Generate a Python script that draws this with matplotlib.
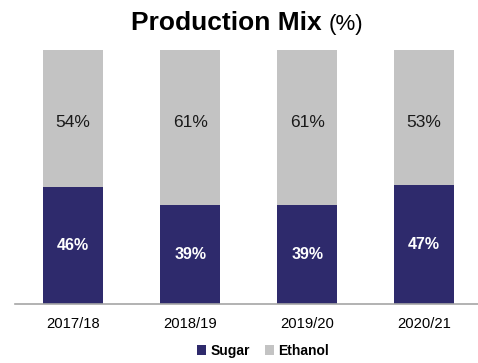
import matplotlib.pyplot as plt
import numpy as np

plt.rcParams['font.family'] = ['Liberation Sans', 'DejaVu Sans']

seasons = ['2017/18', '2018/19', '2019/20', '2020/21']
sugar = [46, 39, 39, 47]
ethanol = [54, 61, 61, 53]

sugar_color = '#2E2A6C'
ethanol_color = '#C3C3C3'

fig = plt.figure(figsize=(4.78, 3.63), dpi=100)
ax = fig.add_axes([15 / 478, 59 / 363, 463 / 478, 254 / 363])

x = np.arange(len(seasons))
w = 0.51
ax.bar(x, sugar, w, color=sugar_color, label='Sugar')
ax.bar(x, ethanol, w, bottom=sugar, color=ethanol_color, label='Ethanol')

for xi, s, e in zip(x, sugar, ethanol):
    ax.text(xi, s / 2, f'{s}%', ha='center', va='center', color='white',
            fontsize=11.5, fontweight='bold')
    ax.text(xi, 71.5, f'{e}%', ha='center', va='center', color='#1a1a1a',
            fontsize=12.5)

ax.set_xlim(-0.496, 3.46)
ax.set_ylim(0, 100)
ax.set_xticks(x)
ax.set_xticklabels(seasons, fontsize=10.6)
ax.tick_params(axis='x', length=0, pad=9)
ax.set_yticks([])
for side in ['top', 'left', 'right']:
    ax.spines[side].set_visible(False)
ax.spines['bottom'].set_color('#A6A6A6')
ax.spines['bottom'].set_linewidth(1.2)

# title: bold name followed by a regular unit
fig.text(322 / 478, 1 - 30 / 363, 'Production Mix', ha='right', va='baseline',
         fontsize=19, fontweight='bold')
fig.text(329 / 478, 1 - 30 / 363, '(%)', ha='left', va='baseline', fontsize=16)

ax.legend(loc='center', bbox_to_anchor=(263 / 478, 1 - 351 / 363),
          bbox_transform=fig.transFigure,
          ncol=2, frameon=False, handlelength=0.65, handleheight=0.65,
          handletextpad=0.3, columnspacing=1.1,
          prop={'weight': 'bold', 'size': 10})

fig.savefig('out.png', dpi=100)
